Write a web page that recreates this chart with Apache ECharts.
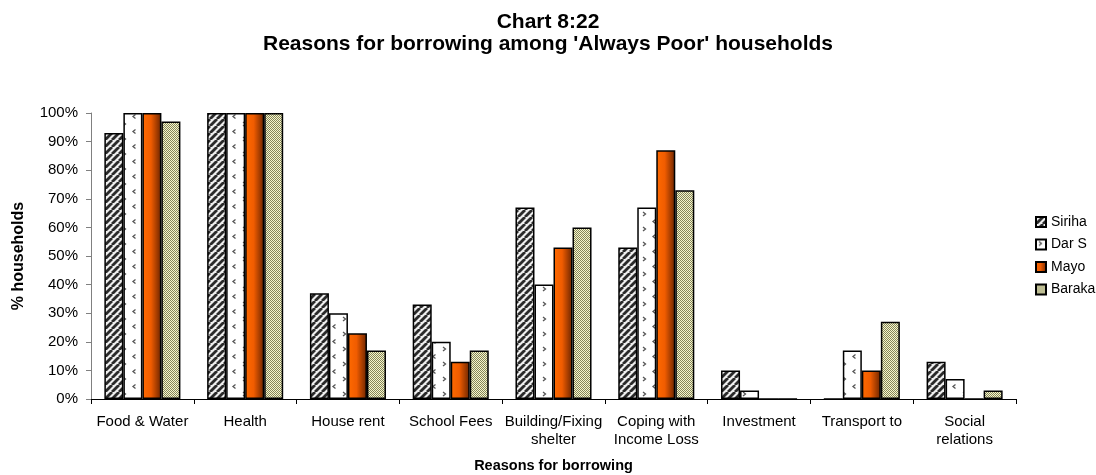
<!DOCTYPE html>
<html>
<head>
<meta charset="utf-8">
<script src="https://cdn.jsdelivr.net/npm/echarts@6/dist/echarts.min.js"></script>
<style>
  html, body { margin: 0; padding: 0; background: #fff; }
  #chart { width: 1096px; height: 475px; }
</style>
</head>
<body>
<div id="chart"></div>
<script>
// Reasons for borrowing, share of households per area (%)
const categories = [
  'Food & Water', 'Health', 'House rent', 'School Fees', 'Building/Fixing\nshelter',
  'Coping with\nIncome Loss', 'Investment', 'Transport to', 'Social\nrelations'
];
const seriesNames = ['Siriha', 'Dar S', 'Mayo', 'Baraka'];
const siriha = [93, 100, 37, 33, 67, 53, 10, 0, 13];
const darS   = [100, 100, 30, 20, 40, 67, 3, 17, 7];
const mayo   = [100, 100, 23, 13, 53, 87, 0, 10, 0];
const baraka = [97, 100, 17, 17, 60, 73, 0, 27, 3];
const yTicks = [0, 10, 20, 30, 40, 50, 60, 70, 80, 90, 100];

const FONT = '"Liberation Sans", Arial, sans-serif';

function makeCanvas(w, h) {
  const c = document.createElement('canvas');
  c.width = w; c.height = h;
  return c;
}

// Wide upward diagonal stripes
function stripePattern() {
  const s = 7;
  const c = makeCanvas(s, s);
  const g = c.getContext('2d');
  g.fillStyle = '#eeeeee';
  g.fillRect(0, 0, s, s);
  g.strokeStyle = '#2a2a2a';
  g.lineWidth = 2.8;
  for (let k = -1; k <= 1; k++) {
    g.beginPath();
    g.moveTo(k * s, s);
    g.lineTo(k * s + s, 0);
    g.stroke();
  }
  return c;
}

// White fill with small staggered chevrons
function chevronPattern() {
  const w = 20, h = 15;
  const c = makeCanvas(w, h);
  const g = c.getContext('2d');
  g.fillStyle = '#ffffff';
  g.fillRect(0, 0, w, h);
  g.strokeStyle = '#555555';
  g.lineWidth = 1.3;
  g.beginPath();
  g.moveTo(3, 2); g.lineTo(5.5, 4); g.lineTo(3, 6);
  g.stroke();
  g.beginPath();
  g.moveTo(15.5, 9.5); g.lineTo(13, 11.5); g.lineTo(15.5, 13.5);
  g.stroke();
  return c;
}

// Fine olive checkerboard
function checkerPattern() {
  const c = makeCanvas(2, 2);
  const g = c.getContext('2d');
  g.fillStyle = '#f6f6cc';
  g.fillRect(0, 0, 2, 2);
  g.fillStyle = '#85855a';
  g.fillRect(0, 0, 1, 1);
  g.fillRect(1, 1, 1, 1);
  return c;
}

const fills = [
  { image: stripePattern(), repeat: 'repeat' },
  { image: chevronPattern(), repeat: 'repeat' },
  new echarts.graphic.LinearGradient(0, 0, 1, 0, [
    { offset: 0, color: '#ff6a00' },
    { offset: 0.45, color: '#f05c00' },
    { offset: 1, color: '#6a2400' }
  ]),
  { image: checkerPattern(), repeat: 'repeat' }
];
const values = [siriha, darS, mayo, baraka];

const chart = echarts.init(document.getElementById('chart'), null, { renderer: 'canvas' });

chart.setOption({
  backgroundColor: '#ffffff',
  animation: false,
  textStyle: { fontFamily: FONT },
  title: {
    text: "Chart 8:22\nReasons for borrowing among 'Always Poor' households",
    left: 'center',
    top: 6,
    textStyle: { fontFamily: FONT, fontSize: 21, fontWeight: 'bold', color: '#000', lineHeight: 22 }
  },
  legend: {
    orient: 'vertical',
    left: 1030,
    top: 210,
    itemWidth: 10,
    itemHeight: 10,
    itemGap: 8.5,
    textStyle: { fontFamily: FONT, fontSize: 14, color: '#000', lineHeight: 14 },
    data: seriesNames.map(n => ({ name: n, icon: 'rect' }))
  },
  grid: { left: 91, right: 80, top: 113, bottom: 76, containLabel: false, outerBoundsMode: 'none' },
  xAxis: {
    type: 'category',
    data: categories,
    name: 'Reasons for borrowing',
    nameLocation: 'middle',
    nameGap: 59,
    nameTextStyle: { fontFamily: FONT, fontSize: 14.5, fontWeight: 'bold', color: '#000' },
    axisLine: { lineStyle: { color: '#000', width: 1 } },
    axisTick: { show: true, length: 5, alignWithLabel: false, lineStyle: { color: '#000' } },
    axisLabel: { fontFamily: FONT, fontSize: 15, color: '#000', margin: 14, lineHeight: 18, interval: 0 }
  },
  yAxis: {
    type: 'value',
    min: yTicks[0],
    max: yTicks[yTicks.length - 1],
    interval: 10,
    name: '% households',
    nameLocation: 'middle',
    nameGap: 64,
    nameTextStyle: { fontFamily: FONT, fontSize: 16, fontWeight: 'bold', color: '#000' },
    axisLine: { show: true, lineStyle: { color: '#808080', width: 1 } },
    axisTick: { show: true, length: 5, inside: false, lineStyle: { color: '#808080' } },
    axisLabel: { fontFamily: FONT, fontSize: 15, color: '#000', margin: 13, formatter: '{value}%' },
    splitLine: { show: false }
  },
  series: seriesNames.map((name, i) => ({
    name: name,
    type: 'bar',
    data: values[i],
    barGap: '0%',
    barCategoryGap: '26%',
    itemStyle: { color: fills[i], borderColor: '#000', borderWidth: 1.5 }
  }))
});
</script>
</body>
</html>
